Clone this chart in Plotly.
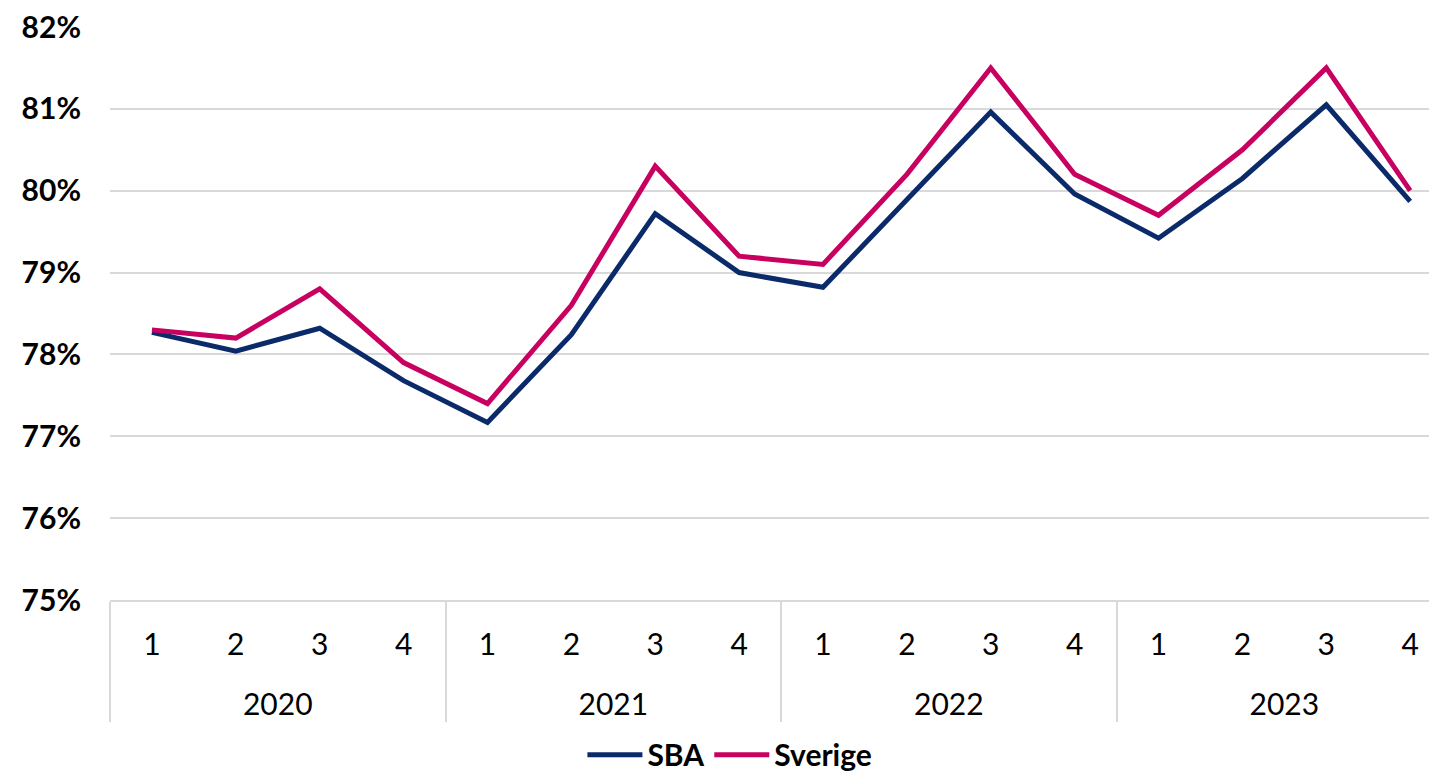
import plotly.graph_objects as go

year_names = ["2020", "2021", "2022", "2023"]
quarter_names = ["1", "2", "3", "4"]

sba = [78.27, 78.04, 78.32, 77.68,
       77.17, 78.24, 79.72, 79.00,
       78.82, 79.88, 80.96, 79.96,
       79.42, 80.15, 81.05, 79.87]
sverige = [78.3, 78.2, 78.8, 77.9,
           77.4, 78.6, 80.3, 79.2,
           79.1, 80.2, 81.5, 80.2,
           79.7, 80.5, 81.5, 80.0]

y_ticks = [75, 76, 77, 78, 79, 80, 81, 82]
y_labels = [f"{v}%" for v in y_ticks]

# year labels get a blank first line so they sit lower, like the reference
years = ["<br>" + y for y in year_names for _ in quarter_names]
quarters = [q for _ in year_names for q in quarter_names]

FONT = "Lato"

fig = go.Figure()
fig.add_trace(go.Scatter(x=[years, quarters], y=sba, name="SBA", mode="lines",
                         line=dict(color="#0B2A6A", width=5)))
fig.add_trace(go.Scatter(x=[years, quarters], y=sverige, name="Sverige", mode="lines",
                         line=dict(color="#C8005F", width=5)))

fig.update_layout(
    width=1429, height=769,
    margin=dict(l=102, r=0, t=19, b=177),
    paper_bgcolor="white", plot_bgcolor="white",
    font=dict(family=FONT, color="#000000"),
    showlegend=True,
    legend=dict(orientation="h", x=0.356, xanchor="left",
                yref="container", y=0.029, yanchor="middle",
                bgcolor="rgba(0,0,0,0)",
                font=dict(family=FONT, size=30, color="#000000", weight="bold"),
                itemwidth=55, tracegroupgap=0),
    xaxis=dict(type="multicategory", range=[-0.5, 15.32], automargin=False,
               showgrid=False, showline=True, linecolor="#D9D9D9", linewidth=2,
               showdividers=True, dividercolor="#D9D9D9", dividerwidth=2,
               tickfont=dict(family=FONT, size=30, color="#000000"),
               ticklabelstandoff=17,
               ticks=""),
    yaxis=dict(range=[75, 82], tickvals=y_ticks, ticktext=y_labels, automargin=False,
               showgrid=True, gridcolor="#D9D9D9", gridwidth=2,
               zeroline=False, showline=False, ticks="",
               ticklabelstandoff=28, ticklabeloverflow="allow",
               tickfont=dict(family=FONT, size=30, color="#000000", weight="bold")),
)

fig.write_html("out.html")
